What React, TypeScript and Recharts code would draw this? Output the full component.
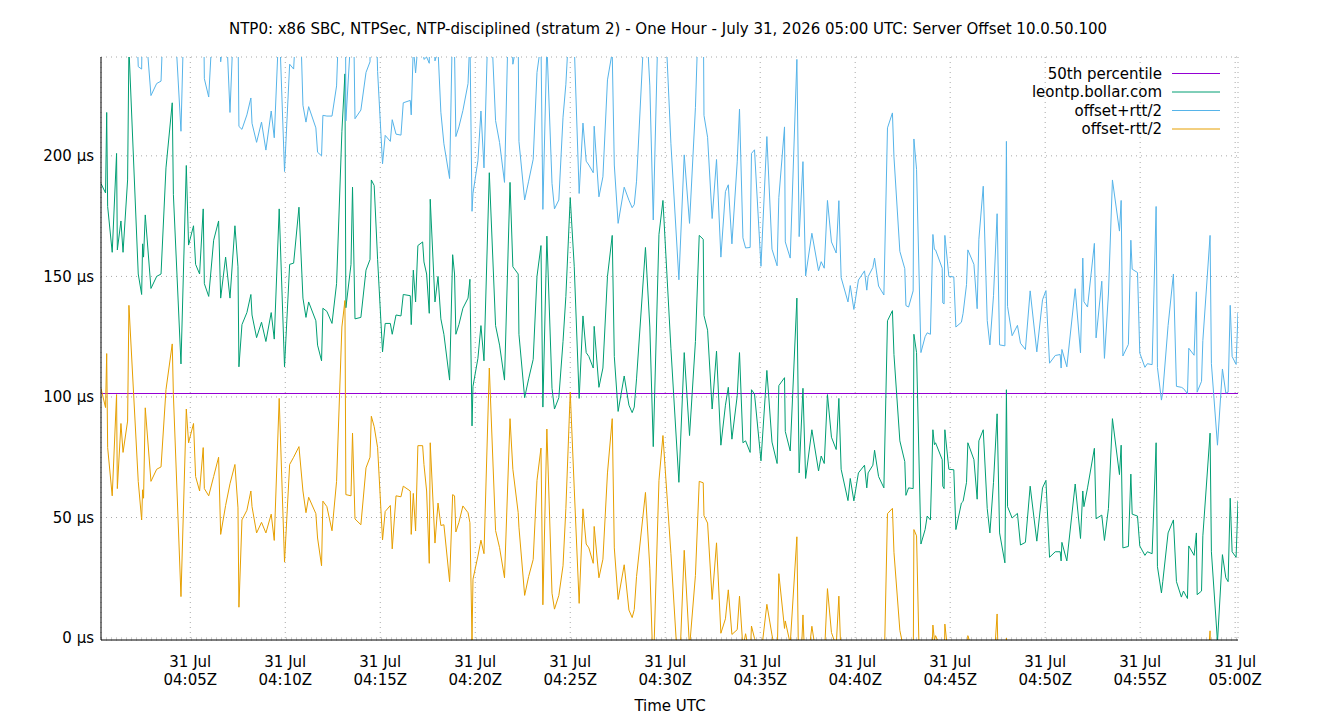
import React from 'react';
import { LineChart, Line, XAxis, YAxis, CartesianGrid, ReferenceLine } from 'recharts';

const FONT = '"DejaVu Sans", sans-serif';

// sample time, minutes after 04:00 UTC
const minutes = [
  0.30, 0.54, 0.60, 0.65, 0.89, 1.12, 1.16, 1.35, 1.46, 1.70, 1.77, 2.26, 2.44, 2.49, 2.54, 2.63, 2.93, 3.23, 3.46, 3.72, 4.05, 4.11, 4.51, 4.79, 4.91, 5.17, 5.28, 5.49, 5.68, 5.74,
  5.97, 6.23, 6.49, 6.60, 6.86, 7.09, 7.35, 7.51, 7.56, 7.72, 7.98, 8.19, 8.25, 8.49, 8.75, 8.98, 9.26, 9.42, 9.68, 9.96, 10.23, 10.44, 10.72, 10.93, 11.09, 11.23,
  11.61, 11.70, 11.91, 11.98, 12.19, 12.46, 12.70, 12.98, 13.14, 13.19, 13.46, 13.54, 13.67, 13.98, 14.25, 14.46, 14.53, 14.68, 14.86, 15.12, 15.26, 15.53, 15.63, 15.83, 16.09, 16.21, 16.58, 16.63,
  16.74, 16.86, 16.98, 17.23, 17.30, 17.44, 17.58, 17.63, 17.88, 18.04, 18.19, 18.35, 18.65, 18.81, 18.91, 18.98, 19.14, 19.35, 19.62, 19.72, 19.83, 19.88, 20.14, 20.30, 20.46, 20.74, 21.07, 21.28, 21.54, 21.83,
  21.98, 22.26, 22.30, 22.60, 22.81, 23.05, 23.25, 23.46, 23.56, 23.77, 24.04, 24.17, 24.40, 24.62, 24.77, 25.00, 25.21, 25.47, 25.67, 25.84, 25.98, 26.21, 26.26, 26.51, 26.72, 26.96, 27.21, 27.32, 27.52,
  27.84, 28.09, 28.26, 28.37, 28.49, 28.96, 29.19, 29.37, 29.67, 29.88, 30.30, 30.72, 31.00, 31.28, 31.59, 31.79, 32.00, 32.04, 32.23, 32.47, 32.70, 32.93,
  33.17, 33.32, 33.51, 33.79, 33.91, 34.09, 34.23, 34.47, 34.54, 34.70, 35.04, 35.35, 35.62, 35.89, 35.98, 36.28, 36.32, 36.58, 36.93, 37.05, 37.25, 37.39, 37.72, 38.07, 38.21, 38.37,
  38.54, 38.75, 39.00, 39.14, 39.26, 39.62, 39.74, 39.93, 40.17, 40.49, 40.61, 40.68, 40.93, 41.02, 41.23, 41.51, 41.70, 41.96, 42.04, 42.35, 42.61, 42.67, 42.81, 43.05, 43.09, 43.23, 43.46, 43.68,
  43.79, 43.96, 44.09, 44.17, 44.23, 44.58, 44.61, 44.68, 44.72, 44.93, 45.19, 45.30, 45.59, 45.68, 45.86, 45.93, 46.25, 46.42, 46.51, 46.74, 46.95, 47.09, 47.28, 47.47, 47.60, 47.88, 47.96, 48.02, 48.26, 48.54, 48.70, 48.96, 49.21,
  49.56, 49.86, 50.04, 50.23, 50.53, 50.79, 50.84, 50.88, 51.14, 51.58, 51.86, 51.98, 52.04, 52.23, 52.59, 52.68, 52.98, 53.12, 53.33, 53.54, 53.91, 54.00, 54.09, 54.38, 54.51, 54.58, 54.86, 54.98, 55.25, 55.38,
  55.63, 55.84, 55.91, 56.12, 56.19, 56.47, 56.75, 56.91, 57.17, 57.28, 57.49, 57.56, 57.84, 57.96, 58.00, 58.23, 58.30, 58.68, 58.75, 59.07, 59.33, 59.51, 59.63, 59.74, 59.84, 60.05, 60.15,
];

// leontp.bollar.com offset, µs
const offsetUs = [
  188.5, 184.6, 218, 179, 160, 201, 161, 173, 160, 190, 245, 151, 142.5, 163.5, 158, 175.5, 145, 150, 151, 195, 222, 184, 113.7, 196, 163, 171, 155, 151, 178, 147,
  141.7, 165, 173, 141, 158, 141, 171, 154, 112.5, 130, 135, 142.5, 134, 124.6, 131, 123, 135, 124, 178, 112.5, 155, 155.5, 178.7, 141, 133, 139.4,
  131.6, 121.5, 115, 136.8, 135.5, 130.5, 147, 210, 234, 137, 155, 187, 132.4, 133, 152.6, 157, 190, 187.7, 157, 118.7, 130.5, 130.5, 126, 134, 133.6, 142.5, 142, 130,
  152.6, 139.4, 162.8, 164.3, 156, 151, 134.7, 182, 139.4, 150, 132.4, 126, 107, 159, 151, 126, 130, 136.8, 141, 148.8, 88, 104.4, 116, 129.6, 115, 193, 129.6, 121.5, 107, 189,
  154, 151, 126, 99.7, 107.5, 115.6, 150, 162.8, 95.8, 166.7, 103.6, 95, 99.7, 123, 141.7, 182.6, 154.2, 99.4, 133.6, 118.4, 116.8, 112, 129.3, 104, 112, 150, 167, 116.8, 94,
  108.7, 96.6, 93.5, 95.8, 107.5, 162, 129, 79.4, 167.4, 181.5, 120, 64.6, 118.4, 84, 123, 167, 165.4, 133.8, 127.7, 95, 119, 80,
  96.6, 104, 82.5, 100.5, 118.4, 81, 81.8, 77, 103, 101.2, 73.5, 111, 81.3, 72.4, 104.7, 108, 85.7, 77.6, 141, 68.5, 103.6, 66.2, 86.4, 69.3, 75.5, 72.4,
  101, 83.3, 78.2, 99.4, 70, 57, 66.2, 56.9, 68.5, 71.7, 62.3, 68.5, 71.7, 77.9, 67, 62.3, 131.6, 135.8, 117.6, 81.8, 73.2, 59.2, 62.3, 62, 126, 118.4, 39, 45,
  50.6, 49, 86.4, 80.2, 81, 74, 63, 62, 86.4, 70, 69.8, 45, 56, 56.7, 64.6, 81, 74, 57.6, 81.8, 86.4, 53.7, 43.6, 64.6, 93, 43.6, 31.2, 103, 54.5, 49.8, 51.7, 38.6, 39.7, 63,
  40.2, 62.3, 65.4, 33.5, 35.8, 35.8, 32, 39.7, 32, 63.9, 41.3, 61, 54.5, 62.3, 78.7, 49.5, 51, 40.5, 53.7, 91, 67.8, 80, 37.4, 38, 68, 51.4, 50.6, 38.2, 34.3, 35.8,
  35, 81, 29.6, 18.7, 23.4, 43.6, 49, 23.4, 17, 19.5, 16.4, 38.2, 34.3, 43.6, 18, 19.5, 42.4, 85, 35.8, -1.5, 34.6, 25, 23.4, 58, 35.8, 33.5, 57,
];

// half of the round trip time, µs
const halfRttUs = [
  85, 89, 100, 100, 101, 100, 99, 84, 83, 100, 107, 86, 93.5, 102, 100, 80, 80, 80, 80, 92, 100, 83, 96.5, 101, 82, 82, 88, 90, 99, 85,
  82.7, 98, 98, 98, 103, 77, 99, 100, 99.7, 81, 82, 81.5, 79.5, 81, 83, 79.4, 83.6, 83.5, 78.6, 81, 83, 80.5, 99.3, 80, 81, 81,
  80, 80, 85, 80, 81, 86, 82, 81, 94, 77.5, 96, 102, 83, 86, 82, 82, 98, 100, 78, 78, 78, 75.5, 89, 75, 75, 79.5, 81, 87,
  92.6, 95, 83, 84.5, 84, 90, 103.7, 101, 100, 94, 85.7, 79, 83.6, 99.5, 92, 82, 82, 82, 89, 101, 89, 80, 82, 89, 80, 81, 85, 84, 82, 98,
  84, 99, 80, 82, 82, 83, 84.6, 84, 82, 80, 85, 83, 82, 93, 88, 80.6, 92, 85, 80, 79.4, 79.4, 81, 83, 79, 79.3, 81.5, 76, 79.4, 78,
  78.3, 85, 85, 84, 82, 101.6, 100, 94, 102, 97.5, 85, 84, 82, 88, 97, 102, 101, 83, 80, 79, 79.5, 78,
  88.6, 84, 81, 97, 101, 85, 80, 85, 98, 101.3, 80.7, 97, 80, 82, 78, 104, 78.6, 80, 99, 98, 94, 84, 81.5, 83, 80.6, 81,
  80.5, 81, 81.5, 82, 79.5, 82.4, 80, 79.4, 80, 80.6, 82, 81.4, 82, 79.7, 79, 80, 80, 82, 82, 78.6, 80, 78.7, 75, 82, 81, 76, 79.4, 80,
  76, 77, 81, 81, 80, 79.4, 76, 76.6, 80.6, 80, 80, 84, 75, 78, 82, 80, 81, 79, 83.6, 101, 78, 78, 77.4, 83, 78, 90, 103, 83, 75.6, 78, 83.7, 80, 81,
  78.5, 78, 78.7, 80.5, 81.4, 81.8, 80, 80, 80.5, 81, 77, 96.6, 85, 75, 85, 75, 97, 75.5, 89, 99, 101, 101.5, 79.6, 83.8, 97, 101.6, 101, 80, 78, 78,
  78.4, 98, 82.6, 80, 78.6, 86, 102, 81, 87, 84, 85, 82, 83, 100, 84, 87, 81, 82, 78, 81.5, 77, 76.6, 78.6, 80, 81, 80, 78,
];

const percentile50 = 101.6;

const xTicks = [5, 10, 15, 20, 25, 30, 35, 40, 45, 50, 55, 60];
const xTickLabels = ['04:05Z', '04:10Z', '04:15Z', '04:20Z', '04:25Z', '04:30Z', '04:35Z', '04:40Z', '04:45Z', '04:50Z', '04:55Z', '05:00Z'];
const yTicks = [0, 50, 100, 150, 200];

const X_DOMAIN = [0.3, 60.15];
const Y_DOMAIN = [-0.8, 241];

const legendItems = [
  { label: '50th percentile', color: '#9400d3' },
  { label: 'leontp.bollar.com', color: '#009e73' },
  { label: 'offset+rtt/2', color: '#56b4e9' },
  { label: 'offset-rtt/2', color: '#e69f00' },
];

const rows = minutes.map((t, i) => ({
  t,
  offset: offsetUs[i],
  plus: offsetUs[i] + halfRttUs[i],
  minus: offsetUs[i] - halfRttUs[i],
}));

const TimeTick = (props: any) => {
  const { x, y, payload } = props;
  const idx = xTicks.indexOf(payload.value);
  return (
    <g>
      <text x={x} y={y + 26.5} textAnchor="middle" fontSize={15} fontFamily={FONT} fill="#000">31 Jul</text>
      <text x={x} y={y + 44.5} textAnchor="middle" fontSize={15} fontFamily={FONT} fill="#000">{xTickLabels[idx]}</text>
    </g>
  );
};

const App = () => {
  return (
    <div style={{ position: 'absolute', left: 0, top: 0, width: 1340, height: 720, background: '#fff' }}>
      <LineChart width={1340} height={720} data={rows} margin={{ top: 57, right: 102, bottom: 0, left: 0 }}>
        <CartesianGrid stroke="#a8a8a8" strokeDasharray="1 4" />
        <XAxis
          dataKey="t"
          type="number"
          domain={X_DOMAIN}
          ticks={xTicks}
          interval={0}
          allowDataOverflow
          height={80}
          tickLine={false}
          tickSize={0}
          tickMargin={0}
          axisLine={{ stroke: '#000' }}
          tick={<TimeTick />}
        />
        <XAxis xAxisId="top" orientation="top" type="number" domain={X_DOMAIN} ticks={xTicks} interval={0}
          allowDataOverflow mirror height={0} tick={false} tickSize={6} axisLine={{ stroke: '#000' }} tickLine={{ stroke: '#000' }} />
        <XAxis xAxisId="bot" orientation="bottom" type="number" domain={X_DOMAIN} ticks={xTicks} interval={0}
          allowDataOverflow mirror height={0} tick={false} tickSize={6} axisLine={false} tickLine={{ stroke: '#000' }} />
        <YAxis
          type="number"
          domain={Y_DOMAIN}
          ticks={yTicks}
          interval={0}
          allowDataOverflow
          width={101}
          tickLine={false}
          tickSize={0}
          tickMargin={7}
          axisLine={{ stroke: '#000' }}
          tick={{ fill: '#000', fontSize: 15, fontFamily: FONT }}
          tickFormatter={(v: number) => `${v} µs`}
        />
        <YAxis yAxisId="lm" orientation="left" type="number" domain={Y_DOMAIN} ticks={yTicks} interval={0}
          allowDataOverflow mirror width={0} tick={false} tickSize={6} axisLine={false} tickLine={{ stroke: '#000' }} />
        <YAxis yAxisId="rm" orientation="right" type="number" domain={Y_DOMAIN} ticks={yTicks} interval={0}
          allowDataOverflow mirror width={0} tick={false} tickSize={6} axisLine={{ stroke: '#000' }} tickLine={{ stroke: '#000' }} />
        <ReferenceLine y={percentile50} stroke="#9400d3" strokeWidth={1} shapeRendering="crispEdges" ifOverflow="hidden" />
        <Line type="linear" dataKey="offset" stroke="#009e73" strokeWidth={1} dot={false} isAnimationActive={false} />
        <Line type="linear" dataKey="plus" stroke="#56b4e9" strokeWidth={1} dot={false} isAnimationActive={false} />
        <Line type="linear" dataKey="minus" stroke="#e69f00" strokeWidth={1} dot={false} isAnimationActive={false} />
      </LineChart>
      <svg width={1340} height={720} style={{ position: 'absolute', left: 0, top: 0, pointerEvents: 'none' }}>
        <text x={668} y={33.5} textAnchor="middle" fontSize={15} fontFamily={FONT} fill="#000">
          NTP0: x86 SBC, NTPSec, NTP-disciplined (stratum 2) - One Hour - July 31, 2026 05:00 UTC: Server Offset 10.0.50.100
        </text>
        <text x={670} y={711} textAnchor="middle" fontSize={15} fontFamily={FONT} fill="#000">Time UTC</text>
        {legendItems.map((item, i) => (
          <g key={item.label}>
            <text x={1162} y={78.8 + i * 18.5} textAnchor="end" fontSize={15} fontFamily={FONT} fill="#000">{item.label}</text>
            <line x1={1172} x2={1220} y1={73.5 + i * 18.5} y2={73.5 + i * 18.5} stroke={item.color} strokeWidth={1} />
          </g>
        ))}
      </svg>
    </div>
  );
};

export default App;
